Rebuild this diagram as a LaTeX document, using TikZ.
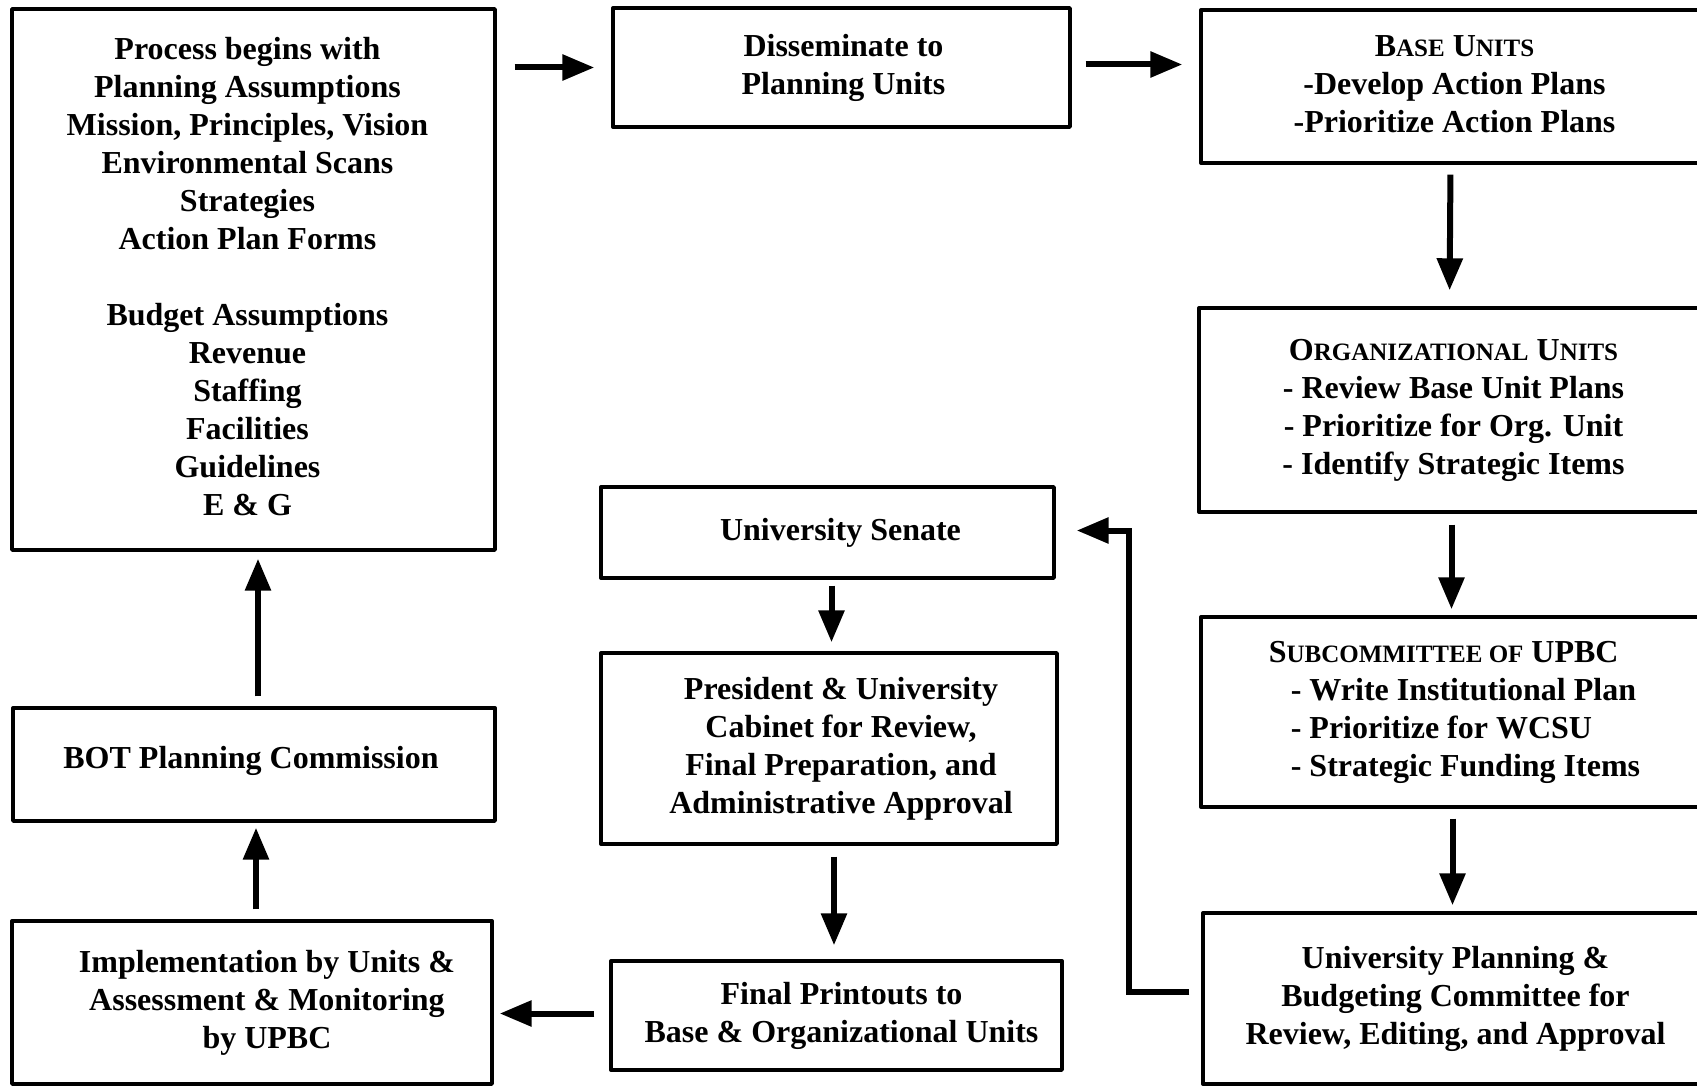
\documentclass[tikz,border=0pt]{standalone}
\usepackage{fontspec}
\setmainfont{Liberation Serif}
\usetikzlibrary{arrows.meta}
\newcommand{\lowcap}[1]{{\fontsize{12.5pt}{19pt}\selectfont #1}}
\newcommand{\lines}[2]{\hspace*{#1}\begin{tabular}{@{}c@{}}#2\end{tabular}}

\begin{document}
\begin{tikzpicture}[line cap=round,line join=round,>={Triangle[length=16pt,width=12.5pt]},x=0.5pt,y=-0.5pt,
  box/.style={draw,line width=1.7pt,align=center,inner sep=0pt,
    font=\bfseries\fontsize{16pt}{19pt}\selectfont},
  arr/.style={->,line width=3pt,line cap=butt}]
\clip (0,0) rectangle (1697,1086);
\fill[white] (0,0) rectangle (1697,1086);
%
\node[box,minimum width=241.5pt,minimum height=270.5pt] (plan) at (253.5,279.5)
  {\lines{-6pt}{Process begins with\\Planning Assumptions\\Mission, Principles, Vision\\Environmental Scans\\Strategies\\Action Plan Forms\\[19pt]Budget Assumptions\\Revenue\\Staffing\\Facilities\\Guidelines\\E \& G}};
\node[box,minimum width=228.5pt,minimum height=59.5pt] (dissem) at (841.5,67.5)
  {\raisebox{3pt}{\lines{2pt}{Disseminate to\\Planning Units}}};
\node[box,minimum width=253.5pt,minimum height=76.5pt] (base) at (1454.5,86.5)
  {\raisebox{-1pt}{\lines{0pt}{B\lowcap{ASE} U\lowcap{NITS}\\-Develop Action Plans\\-Prioritize Action Plans}}};
\node[box,minimum width=254.5pt,minimum height=102pt] (org) at (1453.5,410)
  {\raisebox{-2pt}{\lines{0pt}{O\lowcap{RGANIZATIONAL} U\lowcap{NITS}\\- Review Base Unit Plans\\- Prioritize for Org. Unit\\- Identify Strategic Items}}};
\node[box,align=left,minimum width=253.5pt,minimum height=95pt] (sub) at (1454.5,712)
  {S\lowcap{UBCOMMITTEE OF} UPBC\\\hspace*{11pt}- Write Institutional Plan\\\hspace*{11pt}- Prioritize for WCSU\\\hspace*{11pt}- Strategic Funding Items};
\node[box,minimum width=252.5pt,minimum height=85.5pt] (upbc) at (1455.5,998.5)
  {University Planning \&\\Budgeting Committee for\\Review, Editing, and Approval};
\node[box,minimum width=226.5pt,minimum height=45.5pt] (senate) at (827.5,532.5)
  {\raisebox{-2pt}{\lines{13pt}{University Senate}}};
\node[box,minimum width=228pt,minimum height=95.5pt] (pres) at (829,748.5)
  {\lines{12pt}{President \& University\\Cabinet for Review,\\Final Preparation, and\\Administrative Approval}};
\node[box,minimum width=225.5pt,minimum height=54.5pt] (final) at (836.5,1015.5)
  {\lines{5pt}{Final Printouts to\\Base \& Organizational Units}};
\node[box,minimum width=241pt,minimum height=56.5pt] (bot) at (254,764.5)
  {\raisebox{9pt}{\lines{-3pt}{BOT Planning Commission}}};
\node[box,minimum width=240pt,minimum height=81.5pt] (impl) at (252,1002.5)
  {\raisebox{-2pt}{\lines{15pt}{Implementation by Units \&\\Assessment \& Monitoring\\by UPBC}}};
%
\draw[arr,shorten <=9pt,shorten >=8.5pt] (plan.east |- dissem.west) -- (dissem.west);
\draw[arr,shorten <=7pt,shorten >=8.5pt] ([yshift=1.5pt]dissem.east) -- ([yshift=1.5pt]dissem.east -| base.west);
\draw[arr,shorten <=5pt,shorten >=8pt] ([xshift=-2pt]base.south) -- ([xshift=-2pt]org.north);
\draw[arr,shorten <=5.5pt,shorten >=3pt] ([xshift=-1pt]org.south) -- ([xshift=-1pt]org.south |- sub.north);
\draw[arr,shorten <=5pt,shorten >=3pt] ([xshift=-1pt]sub.south) -- ([xshift=-1pt]sub.south |- upbc.north);
\draw[arr,line join=miter] ([xshift=-6pt,yshift=3.5pt]upbc.west) -- ++(-30pt,0) |- ([xshift=10.5pt,yshift=1pt]senate.east);
\draw[arr,shorten <=3pt,shorten >=4.5pt] ([xshift=2pt]senate.south) -- ([xshift=2pt]senate.south |- pres.north);
\draw[arr,shorten <=5.5pt,shorten >=7pt] ([xshift=2.5pt]pres.south) -- ([xshift=2.5pt]pres.south |- final.north);
\draw[arr,shorten <=7.5pt,shorten >=3pt] ([yshift=1pt]final.west) -- ([yshift=1pt]final.west -| impl.east);
\draw[arr,shorten <=5pt,shorten >=2.5pt] ([xshift=2pt]impl.north) -- ([xshift=2pt]impl.north |- bot.south);
\draw[arr,shorten <=5pt,shorten >=3.5pt] ([xshift=2pt]bot.north) -- ([xshift=2pt]bot.north |- plan.south);
\end{tikzpicture}
\end{document}
